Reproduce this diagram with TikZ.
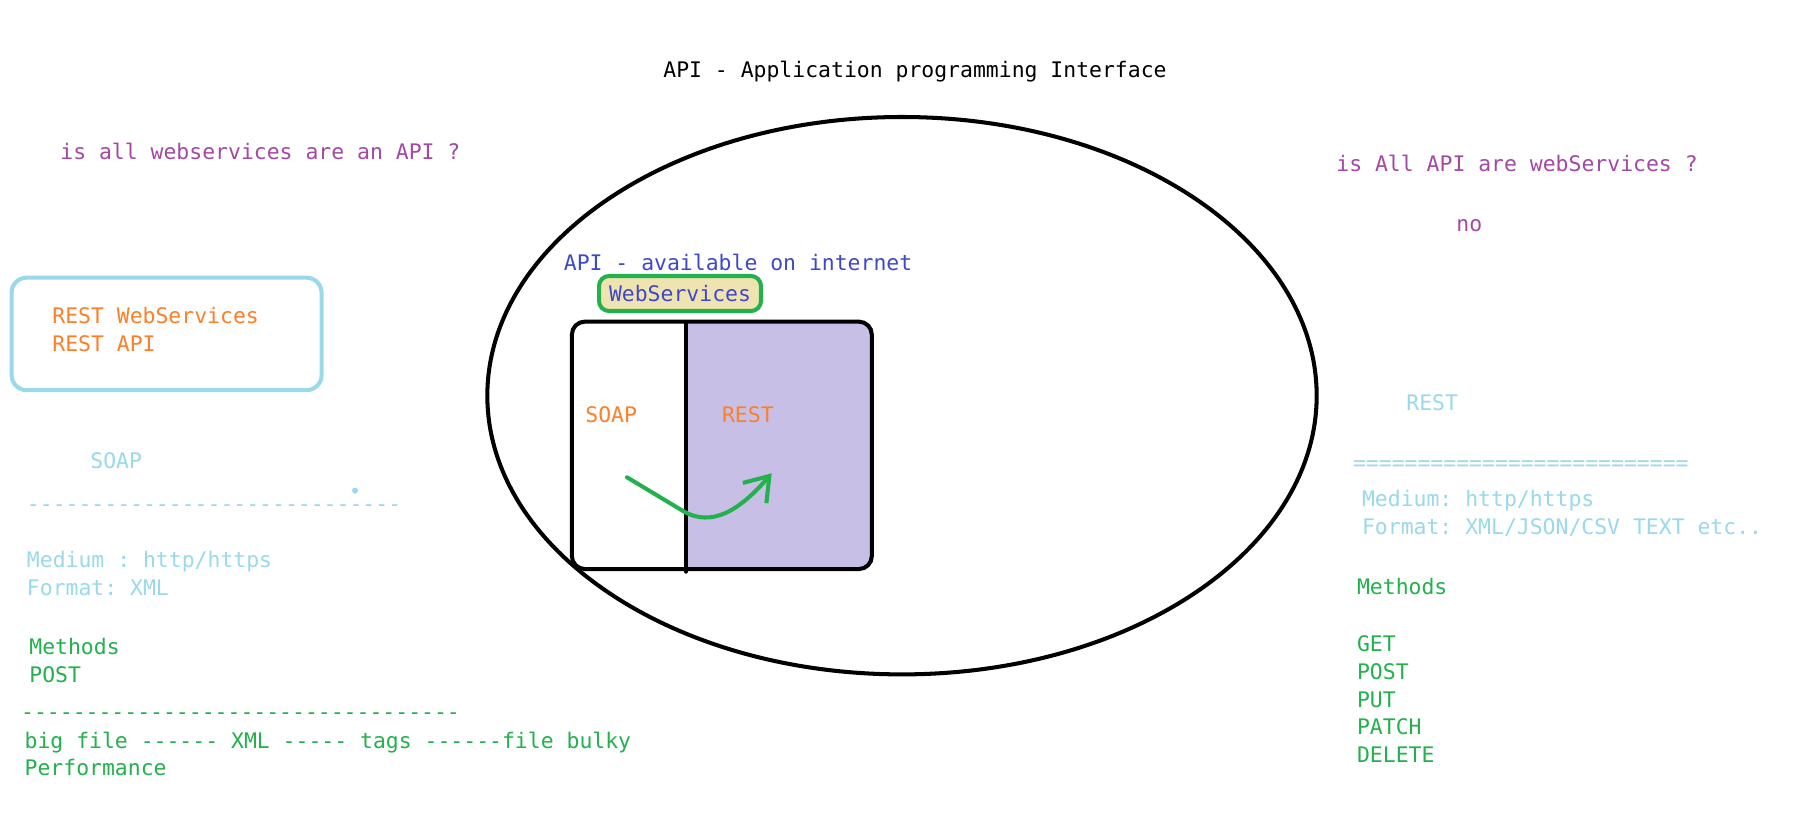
\documentclass[tikz,border=0pt]{standalone}
\usepackage{fontspec}
\setmonofont{DejaVu Sans Mono}
\usepackage{xcolor}
\definecolor{apipurple}{RGB}{163,73,164}
\definecolor{apiorange}{RGB}{255,127,39}
\definecolor{apigreen}{RGB}{34,177,76}
\definecolor{apicyan}{RGB}{153,217,234}
\definecolor{apiindigo}{RGB}{63,72,204}
\definecolor{apilav}{RGB}{200,191,231}
\definecolor{apicream}{RGB}{239,228,176}
\usetikzlibrary{arrows.meta,shapes.geometric}

\begin{document}
\begin{tikzpicture}[x=0.02cm, y=-0.02cm, font=\ttfamily\fontsize{12.2pt}{15pt}\selectfont]
    \tikzset{txt/.style={anchor=west, inner sep=0pt, text height=8.9pt, text depth=0pt},
      pen/.style={line width=2.3pt, line cap=round},
      restbox/.style={rectangle, rounded corners=0.3cm, draw=apicyan, pen,
      minimum width=6.2cm, minimum height=2.25cm},
      wsbox/.style={rectangle, rounded corners=0.26cm, draw, pen,
      minimum width=6.0cm, minimum height=4.95cm}}
    \useasboundingbox[fill=white] (0,0) rectangle (1814,827);

    % Title
    \node[txt] (title) at (663,70) {API - Application programming Interface};

    % Left: question and REST card
    \node[txt, text=apipurple] (qleft) at (60,152) {is all webservices are an API ?};
    \node[restbox] (rc) at (166.6,333.9) {};
    \node[txt, text=apiorange] at (52,316) {REST WebServices};
    \node[txt, text=apiorange] at (52,343.6) {REST API};

    % Left: SOAP notes
    \node[txt, text=apicyan] (soapl) at (90,460.5) {SOAP};
    \fill[apicyan] (355,490.6) circle (3);
    \node[txt, text=apicyan] at (26.6,504) {-----------------------------};
    \node[txt, text=apicyan] at (26.6,560) {Medium : http/https};
    \node[txt, text=apicyan] at (26.6,587.8) {Format: XML};
    \node[txt, text=apigreen] at (29,646.8) {Methods};
    \node[txt, text=apigreen] at (29,674.5) {POST};
    \node[txt, text=apigreen] at (20.8,711.6) {----------------------------------};
    \node[txt, text=apigreen] at (24.3,740.5) {big file ------ XML ----- tags ------file bulky};
    \node[txt, text=apigreen] at (24.3,768) {Performance};

    % Centre: API ellipse with web services
    \node[ellipse, draw, pen, inner sep=0pt, minimum width=16.59cm,
      minimum height=11.15cm] (api) at (902,395.7) {};
    \node[txt, text=apiindigo] (inet) at (563.5,262.6) {API - available on internet};
    \node[rectangle, rounded corners=0.2cm, draw=apigreen, fill=apicream, pen,
      minimum width=3.24cm, minimum height=0.7cm, inner sep=0pt, text height=8.9pt,
      text depth=0pt, text=apiindigo] (wsl) at (680,293.5) {WebServices};
    \begin{scope}
      \clip[rounded corners=0.26cm] (571.85,321.85) rectangle (871.85,568.85);
      \fill[apilav] (686,321.85) rectangle (871.85,568.85);
    \end{scope}
    \node[wsbox] (ws) at (721.85,445.35) {};
    \draw[pen] (686,321.85) -- (686,571.7);
    \node[txt, text=apiorange] (soap) at (585,415) {SOAP};
    \node[txt, text=apiorange] (rest) at (721.7,415) {REST};
    \coordinate (a1) at (627,477.3);
    \coordinate (a2) at (771.7,473.3);
    \draw[pen, apigreen, -{Straight Barb[length=0.45cm, width=0.62cm]}]
      (a1) -- (683,511) .. controls (712,528) and (740,510) .. (a2);

    % Right: question and REST notes
    \node[txt, text=apipurple] (qright) at (1336,164) {is All API are webServices ?};
    \node[txt, text=apipurple] (no) at (1456,224) {no};
    \node[txt, text=apicyan] (restr) at (1406,402.7) {REST};
    \node[txt, text=apicyan] at (1352.7,462.7) {==========================};
    \node[txt, text=apicyan] at (1361.7,499) {Medium: http/https};
    \node[txt, text=apicyan] at (1361.7,526.7) {Format: XML/JSON/CSV TEXT etc..};
    \node[txt, text=apigreen] at (1356.7,587) {Methods};
    \node[txt, text=apigreen] at (1356.7,644) {GET};
    \node[txt, text=apigreen] at (1356.7,672) {POST};
    \node[txt, text=apigreen] at (1356.7,700) {PUT};
    \node[txt, text=apigreen] at (1356.7,727) {PATCH};
    \node[txt, text=apigreen] at (1356.7,755) {DELETE};
  \end{tikzpicture}
\end{document}
